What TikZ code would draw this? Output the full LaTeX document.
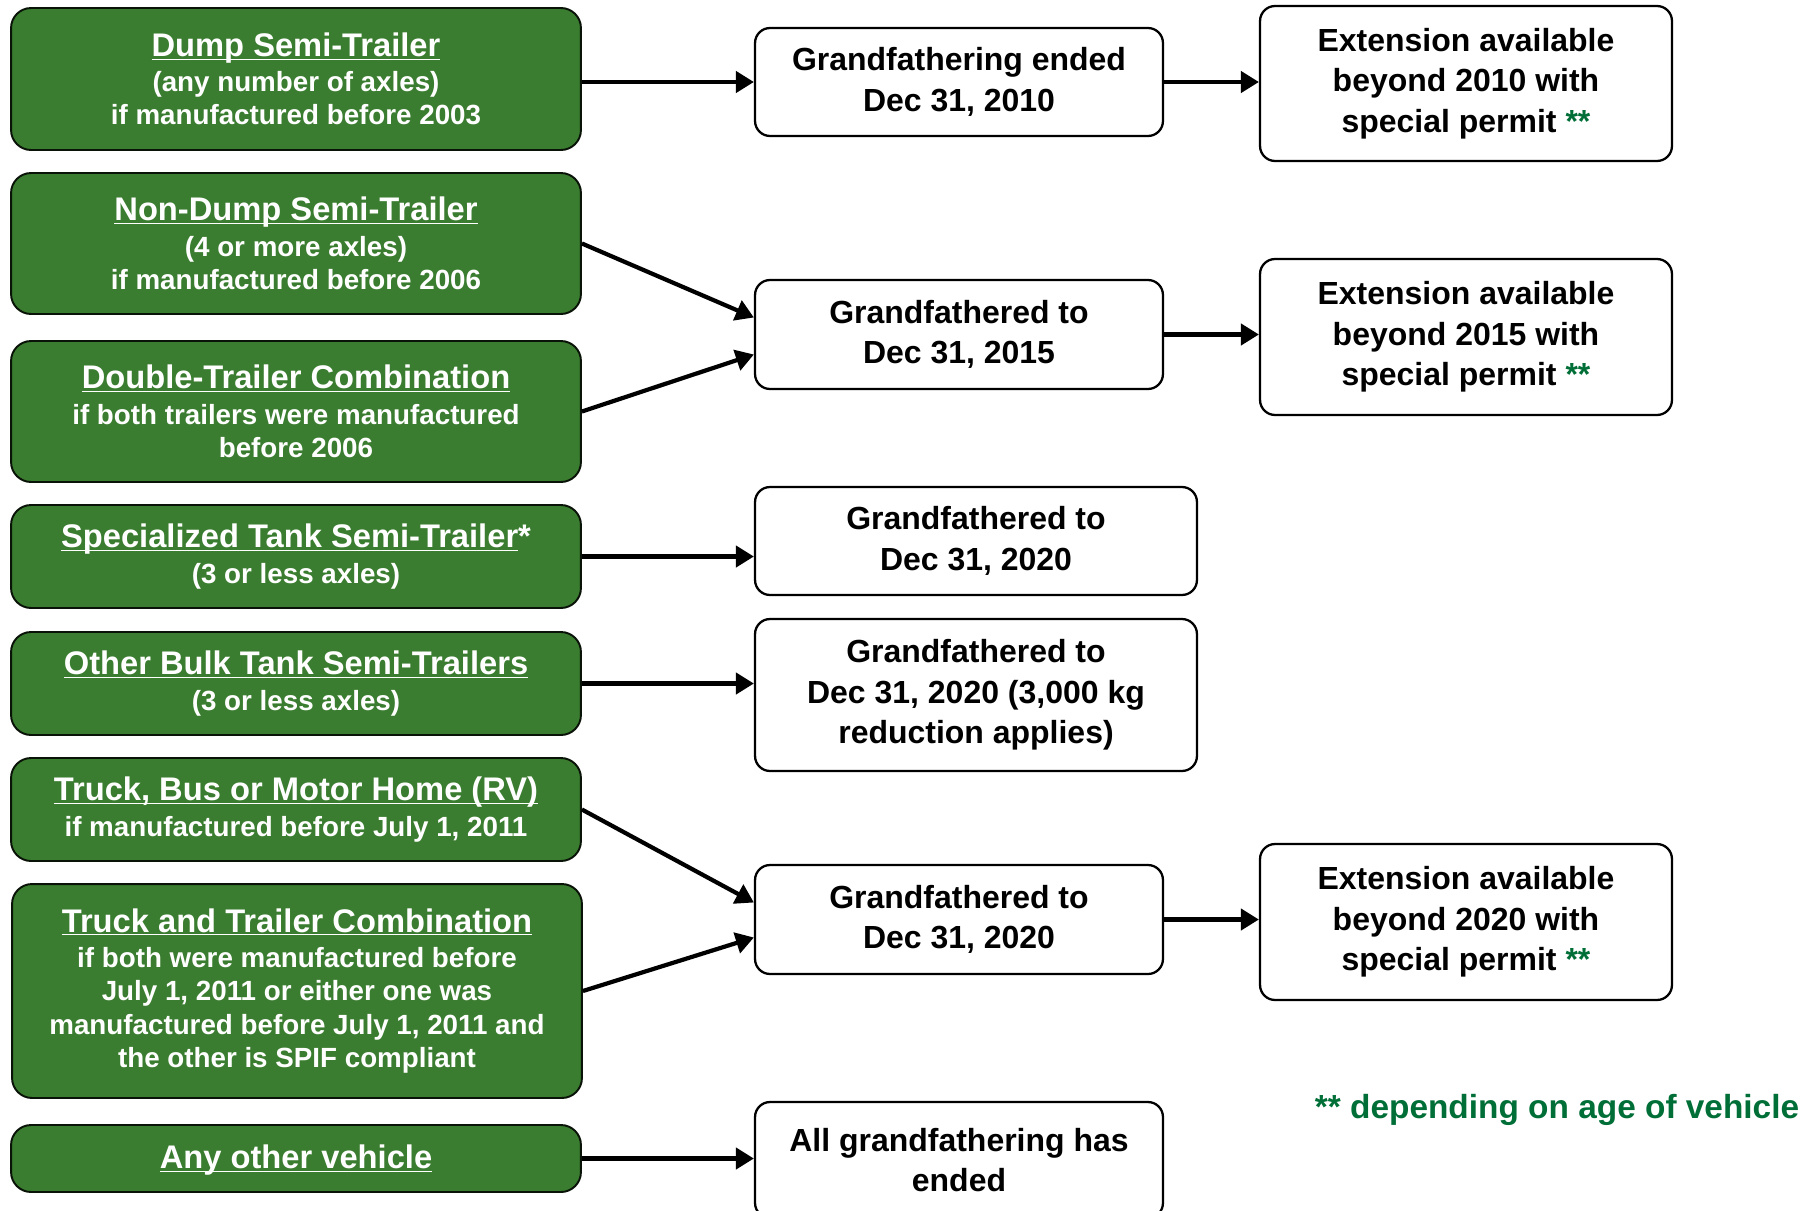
\documentclass[tikz,border=0pt]{standalone}
\usepackage{fontspec}
\setmainfont{Liberation Sans}
\usetikzlibrary{arrows.meta,calc}
\definecolor{boxgreen}{RGB}{59,125,48}
\definecolor{notegreen}{RGB}{0,110,55}

\begin{document}
\begin{tikzpicture}[x=0.02cm,y=-0.02cm,>={Triangle[length=0.36cm,width=0.42cm]}]
	\tikzstyle{vehicle}=[draw=black!85!boxgreen,line width=1.1pt,fill=boxgreen,text=white,rounded corners=0.4cm,minimum width=11.4cm,inner sep=0pt,align=center,font=\bfseries\fontsize{15.8}{19}\selectfont]
	\tikzstyle{status}=[draw,line width=1.3pt,fill=white,rounded corners=0.3cm,inner sep=0pt,align=center,font=\bfseries\fontsize{18.2}{23}\selectfont]
	\tikzstyle{important line}=[line width=2.4pt,->]
	\def\titlefont{\fontsize{18.6}{22}\selectfont}
	\def\ttl#1{{\titlefont\underline{\raisebox{0pt}[\height][0pt]{#1}}}}
	\def\stars{{\color{notegreen}**}}

	\useasboundingbox (0,0) rectangle (1808,1210);

	%vehicles
	\node[vehicle,minimum height=2.84cm] (dump) at (296,79) {\ttl{Dump Semi-Trailer}\\[1pt](any number of axles)\\if manufactured before 2003};
	\node[vehicle,minimum height=2.82cm] (nondump) at (296,243.5) {\ttl{Non-Dump Semi-Trailer}\\[1pt](4 or more axles)\\if manufactured before 2006};
	\node[vehicle,minimum height=2.82cm] (double) at (296,411.5) {\ttl{Double-Trailer Combination}\\[1pt]if both trailers were manufactured\\before 2006};
	\node[vehicle,minimum height=2.06cm] (tank) at (296,556.5) {{\titlefont\underline{\raisebox{0pt}[\height][0pt]{Specialized Tank Semi-Trailer}}*}\\[1pt](3 or less axles)};
	\node[vehicle,minimum height=2.06cm] (bulk) at (296,683.5) {\ttl{Other Bulk Tank Semi-Trailers}\\[1pt](3 or less axles)};
	\node[vehicle,minimum height=2.06cm] (truck) at (296,809.5) {\ttl{Truck, Bus or Motor Home (RV)}\\[1pt]if manufactured before July 1, 2011};
	\node[vehicle,minimum height=4.28cm] (combo) at (297,991) {\ttl{Truck and Trailer Combination}\\[1pt]if both were manufactured before\\July 1, 2011 or either one was\\manufactured before July 1, 2011 and\\the other is SPIF compliant};
	\node[vehicle,minimum height=1.34cm] (other) at (296,1158.5) {\ttl{Any other vehicle}};

	%grandfathering
	\node[status,minimum width=8.16cm,minimum height=2.16cm] (ended) at (959,82) {Grandfathering ended\\Dec 31, 2010};
	\node[status,minimum width=8.16cm,minimum height=2.18cm] (to2015) at (959,334.5) {Grandfathered to\\Dec 31, 2015};
	\node[status,minimum width=8.84cm,minimum height=2.16cm] (tank2020) at (976,541) {Grandfathered to\\Dec 31, 2020};
	\node[status,minimum width=8.84cm,minimum height=3.04cm] (bulk2020) at (976,695) {Grandfathered to\\Dec 31, 2020 (3,000 kg\\reduction applies)};
	\node[status,minimum width=8.16cm,minimum height=2.18cm] (to2020) at (959,919.5) {Grandfathered to\\Dec 31, 2020};
	\node[status,minimum width=8.16cm,minimum height=2.32cm] (none) at (959,1160) {All grandfathering has\\ended};

	%extensions
	\node[status,minimum width=8.24cm,minimum height=3.1cm] (ext2010) at (1466,83.5) {Extension available\\beyond 2010 with\\special permit \stars};
	\node[status,minimum width=8.24cm,minimum height=3.12cm] (ext2015) at (1466,337) {Extension available\\beyond 2015 with\\special permit \stars};
	\node[status,minimum width=8.24cm,minimum height=3.12cm] (ext2020) at (1466,922) {Extension available\\beyond 2020 with\\special permit \stars};

	%note
	\node[text=notegreen,font=\bfseries\fontsize{19}{22}\selectfont] (note) at (1557,1110) {** depending on age of vehicle};

	%arrows
	\draw[important line] (dump.east |- ended.west) -- (ended.west);
	\draw[important line] (nondump.east) -- ([yshift=0.34cm]to2015.west);
	\draw[important line] (double.east) -- ([yshift=-0.4cm]to2015.west);
	\draw[important line] (tank.east) -- (tank.east -| tank2020.west);
	\draw[important line] (bulk.east) -- (bulk.east -| bulk2020.west);
	\draw[important line] (truck.east) -- ([yshift=0.34cm]to2020.west);
	\draw[important line] (combo.east) -- ([yshift=-0.36cm]to2020.west);
	\draw[important line] (other.east) -- (other.east -| none.west);
	\draw[important line] (ended.east) -- (ended.east -| ext2010.west);
	\draw[important line] (to2015.east) -- (to2015.east -| ext2015.west);
	\draw[important line] (to2020.east) -- (to2020.east -| ext2020.west);
\end{tikzpicture}
\end{document}
